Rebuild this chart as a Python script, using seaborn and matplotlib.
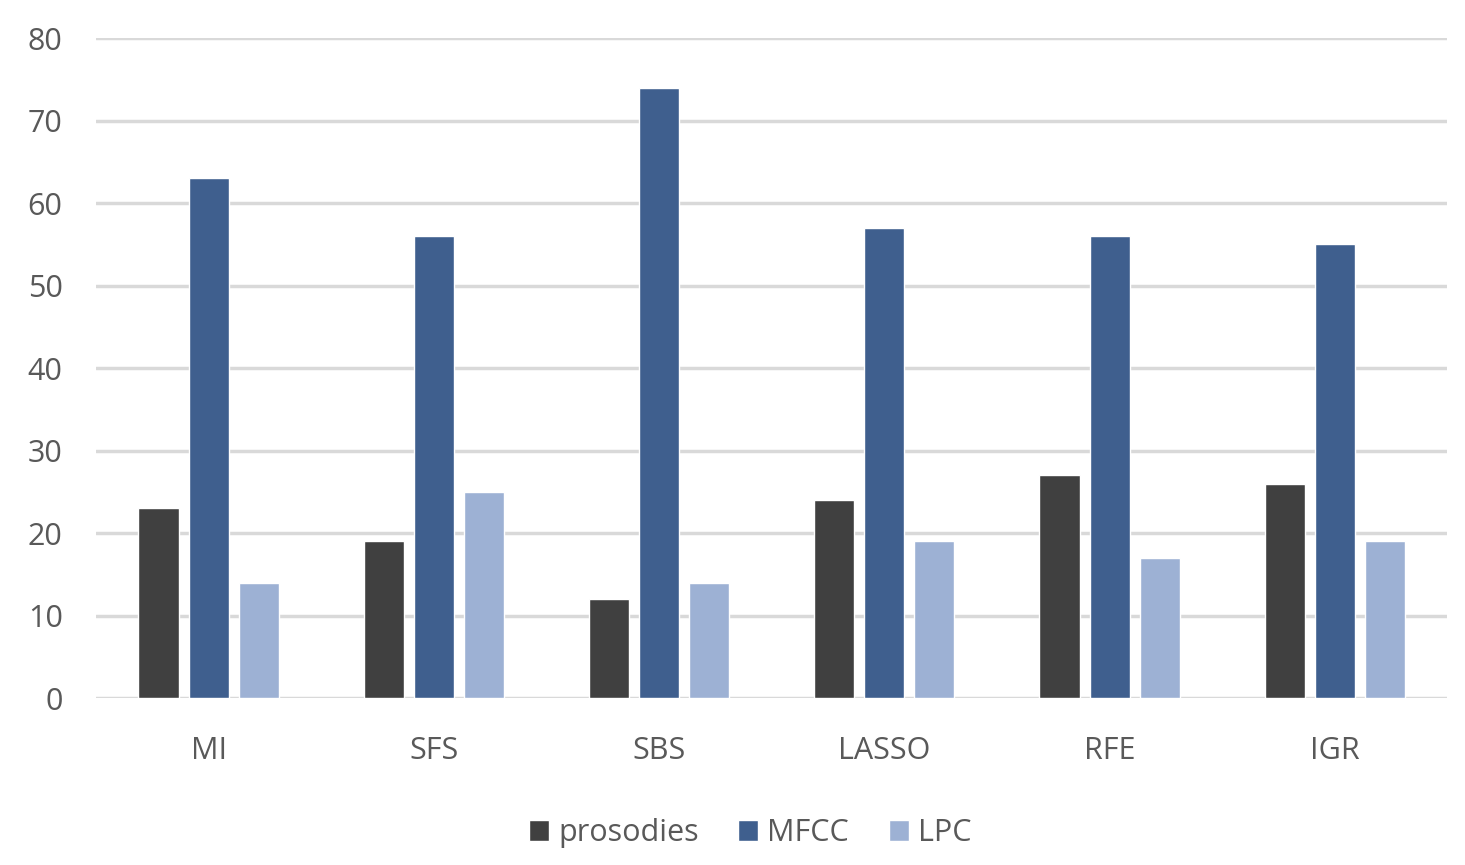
import matplotlib
matplotlib.use("Agg")
import matplotlib.pyplot as plt
import seaborn as sns
import pandas as pd

methods = ["MI", "SFS", "SBS", "LASSO", "RFE", "IGR"]
prosodies = [23, 19, 12, 24, 27, 26]
mfcc = [63, 56, 74, 57, 56, 55]
lpc = [14, 25, 14, 19, 17, 19]
series = ["prosodies", "MFCC", "LPC"]
colors = ["#404040", "#3F5F8E", "#9DB1D4"]
yticks = [0, 10, 20, 30, 40, 50, 60, 70, 80]

df = pd.DataFrame({"method": methods, "prosodies": prosodies, "MFCC": mfcc, "LPC": lpc})
df = df.melt(id_vars="method", var_name="series", value_name="value")

sns.set_style("white")
plt.rcParams["font.family"] = ["Open Sans", "DejaVu Sans"]
text_col = "#595959"

fig = plt.figure(figsize=(14.65, 8.65), dpi=100)
ax = fig.add_axes([0.0655, 0.193, 0.9225, 0.763])

sns.barplot(data=df, x="method", y="value", hue="series", hue_order=series,
            palette=colors, saturation=1, width=0.667, gap=0.2, ax=ax, zorder=3)

ax.set_ylim(0, 80)
ax.set_xlim(-0.5, len(methods) - 0.5)
ax.set_yticks(yticks)
ax.yaxis.grid(True, color="#D9D9D9", linewidth=2.5, zorder=0)
ax.set_axisbelow(True)
for s in ax.spines.values():
    s.set_visible(False)
ax.tick_params(axis="both", length=0, colors=text_col, labelsize=22)
ax.tick_params(axis="x", pad=27)
ax.tick_params(axis="y", pad=24)
ax.set_xlabel("")
ax.set_ylabel("")

handles, labels = ax.get_legend_handles_labels()
ax.legend(handles, labels, loc="center", bbox_to_anchor=(0.484, -0.205), ncol=3,
          frameon=False, fontsize=22, handlelength=0.65, handleheight=0.65,
          handletextpad=0.3, columnspacing=1.3, labelcolor=text_col)

fig.savefig("out.png", dpi=100)
